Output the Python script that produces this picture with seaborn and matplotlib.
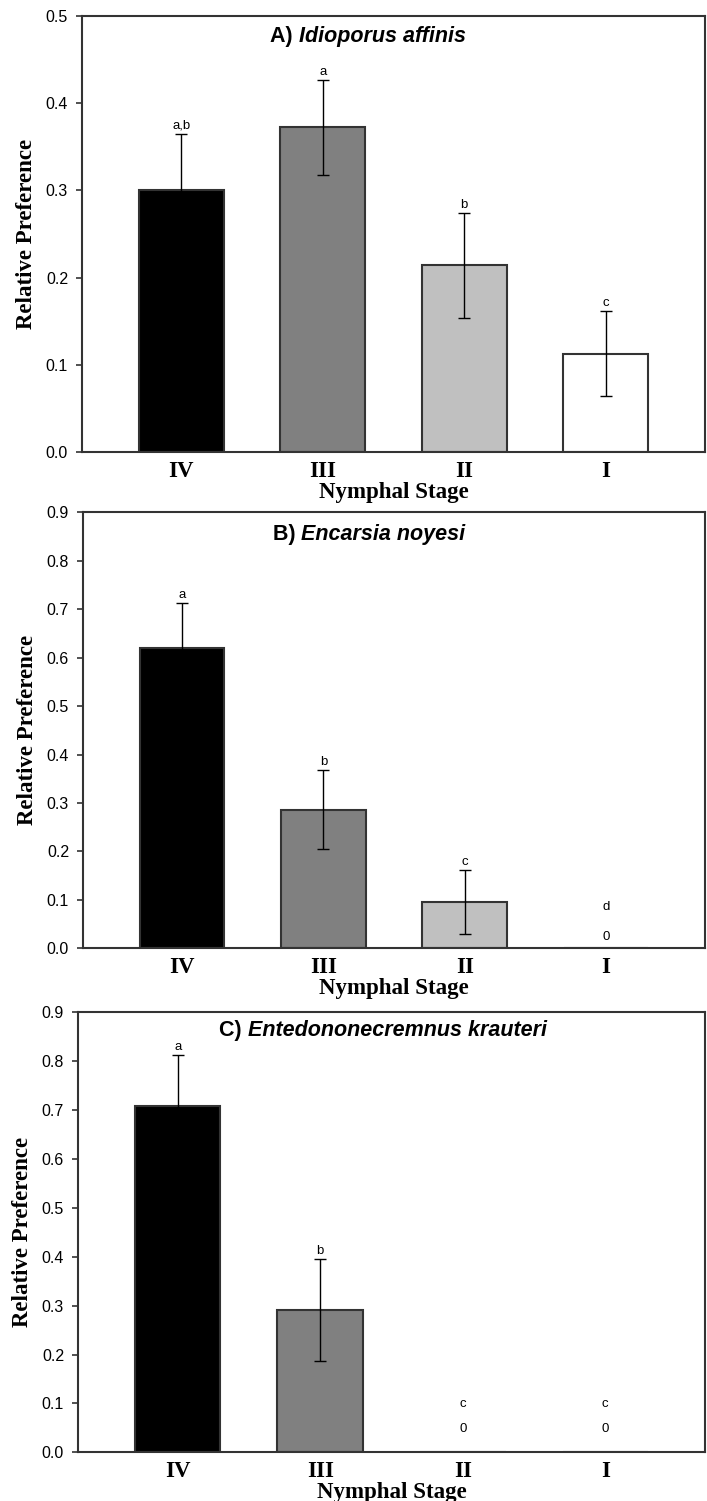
import numpy as np
import matplotlib
matplotlib.use("Agg")
import matplotlib.pyplot as plt
import seaborn as sns

STAGES = ["IV", "III", "II", "I"]
BAR_COLORS = ["#000000", "#808080", "#c0c0c0", "#ffffff"]

# A) Idioporus affinis
IDIOPORUS_MEAN = [0.300, 0.372, 0.214, 0.113]
IDIOPORUS_ERR = [0.065, 0.054, 0.060, 0.049]
IDIOPORUS_LETTERS = ["a,b", "a", "b", "c"]

# B) Encarsia noyesi
ENCARSIA_MEAN = [0.619, 0.286, 0.096, 0.0]
ENCARSIA_ERR = [0.093, 0.082, 0.066, 0.0]
ENCARSIA_LETTERS = ["a", "b", "c", "d"]

# C) Entedononecremnus krauteri
ENTEDON_MEAN = [0.709, 0.291, 0.0, 0.0]
ENTEDON_ERR = [0.104, 0.104, 0.0, 0.0]
ENTEDON_LETTERS = ["a", "b", "c", "c"]

SERIF = "Liberation Serif"
SANS = "Liberation Sans"


def draw_panel(ax, prefix, species, means, errs, letters, ymax, title_pos, zero_offsets):
    sns.barplot(
        x=STAGES,
        y=means,
        hue=STAGES,
        palette=BAR_COLORS,
        legend=False,
        saturation=1,
        width=0.6,
        edgecolor="#333333",
        linewidth=1.5,
        errorbar=None,
        ax=ax,
    )

    pos = np.arange(len(STAGES))
    means = np.asarray(means)
    errs = np.asarray(errs)
    has_bar = means > 0
    ax.errorbar(
        pos[has_bar],
        means[has_bar],
        yerr=errs[has_bar],
        fmt="none",
        ecolor="black",
        elinewidth=1.0,
        capsize=4.5,
        capthick=1.0,
        zorder=4,
    )

    # significance letters (and the "0" label for empty stages)
    for i, (m, e, letter) in enumerate(zip(means, errs, letters)):
        if m > 0:
            ax.annotate(letter, (i, m + e), xytext=(0, 1.5), textcoords="offset points",
                        ha="center", va="bottom", fontsize=9.5, family=SANS)
        else:
            ax.annotate("0", (i, 0), xytext=(0, zero_offsets[0]), textcoords="offset points",
                        ha="center", va="center", fontsize=9.5, family=SANS)
            ax.annotate(letter, (i, 0), xytext=(0, zero_offsets[1]), textcoords="offset points",
                        ha="center", va="center", fontsize=9.5, family=SANS)

    ax.set_xlim(-0.7, 3.7)
    ax.set_ylim(0, ymax)
    ax.set_yticks(np.round(np.arange(0, ymax + 0.001, 0.1), 1))
    ax.yaxis.set_major_formatter(matplotlib.ticker.FormatStrFormatter("%.1f"))
    ax.tick_params(axis="y", length=4, width=1.2, color="#333333", pad=6, labelsize=11.5)
    ax.tick_params(axis="x", length=0, pad=6)
    for lab in ax.get_yticklabels():
        lab.set_family(SANS)
    for lab in ax.get_xticklabels():
        lab.set_family(SERIF)
        lab.set_fontweight("bold")
        lab.set_fontsize(16.5)

    for side in ["left", "right", "top", "bottom"]:
        ax.spines[side].set_visible(True)
        ax.spines[side].set_color("#333333")
        ax.spines[side].set_linewidth(1.5)

    ax.set_xlabel("Nymphal Stage", family=SERIF, fontweight="bold", fontsize=16.5, labelpad=0)
    ax.set_ylabel("Relative Preference", family=SERIF, fontweight="bold", fontsize=16.5, labelpad=6)

    t1 = ax.text(title_pos[0], title_pos[1], prefix, transform=ax.transAxes,
                 ha="left", va="center", fontsize=15.5, fontweight="bold", family=SANS)
    ax.annotate(species, xy=(1, 0), xycoords=t1, ha="left", va="bottom",
                fontsize=15.5, fontweight="bold", fontstyle="italic", family=SANS)


def main():
    sns.set_style("ticks")
    plt.rcParams["font.family"] = [SANS, "DejaVu Sans"]
    plt.rcParams["text.color"] = "black"
    plt.rcParams["axes.labelcolor"] = "black"
    plt.rcParams["xtick.color"] = "black"
    plt.rcParams["ytick.color"] = "black"
    fig = plt.figure(figsize=(7.07, 15.01), dpi=100)

    ax_a = fig.add_axes([0.116, 0.6987, 0.881, 0.2909])
    ax_b = fig.add_axes([0.1174, 0.3682, 0.8798, 0.2905])
    ax_c = fig.add_axes([0.1103, 0.0324, 0.8869, 0.2933])

    draw_panel(ax_a, "A) ", "Idioporus affinis", IDIOPORUS_MEAN, IDIOPORUS_ERR,
               IDIOPORUS_LETTERS, 0.5, (0.302, 0.952), (0, 0))
    draw_panel(ax_b, "B) ", "Encarsia noyesi", ENCARSIA_MEAN, ENCARSIA_ERR,
               ENCARSIA_LETTERS, 0.9, (0.305, 0.948), (8.5, 30))
    draw_panel(ax_c, "C) ", "Entedononecremnus krauteri", ENTEDON_MEAN, ENTEDON_ERR,
               ENTEDON_LETTERS, 0.9, (0.225, 0.959), (17, 35))

    fig.savefig("out.png", dpi=100)


if __name__ == "__main__":
    main()
